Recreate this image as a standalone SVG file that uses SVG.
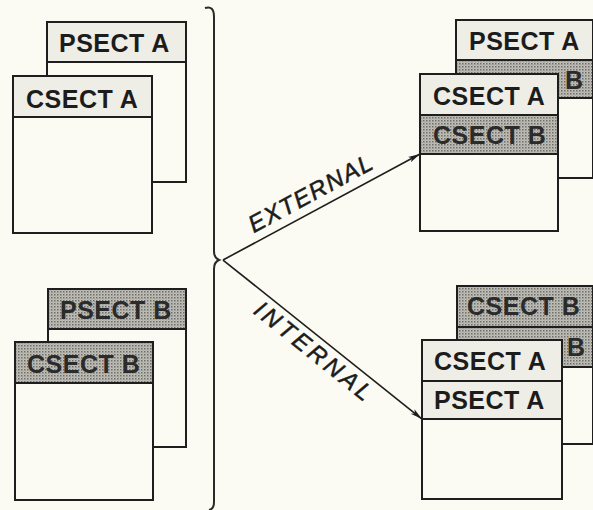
<svg xmlns="http://www.w3.org/2000/svg" width="593" height="510" viewBox="0 0 593 510">
  <defs>
    <!-- halftone screen used for shaded section headers -->
    <pattern id="halftone" width="3" height="3" patternUnits="userSpaceOnUse">
      <rect width="3" height="3" fill="#c2c1b9"/>
      <rect x="0" y="0" width="1.5" height="1.5" fill="#6c6b68"/>
      <rect x="1.5" y="1.5" width="1" height="1" fill="#8e8d89"/>
    </pattern>
    <marker id="arrow" viewBox="0 0 12 8" refX="12" refY="4" markerWidth="12" markerHeight="8" markerUnits="userSpaceOnUse" orient="auto">
      <path d="M0,1 L12,4 L0,7 L3,4 Z" fill="#1e1e1e"/>
    </marker>
    <style>
      .box { fill: #fbfaf3; stroke: #1e1e1e; stroke-width: 2; }
      .light { fill: #efeee6; stroke: #1e1e1e; stroke-width: 2; }
      .shade { fill: url(#halftone); stroke: #1e1e1e; stroke-width: 2; }
      .lbl { font-family: "Liberation Sans", Arial, sans-serif; font-weight: bold; font-size: 25px; letter-spacing: 0.5px; fill: #1c1c1c; }
      .lbl.dim { fill: #2b2b2b; }
      .conn { fill: none; stroke: #1e1e1e; stroke-width: 1.6; }
      .brace { fill: none; stroke: #2a2a2a; stroke-width: 2; }
      .tag { font-family: "Liberation Sans", Arial, sans-serif; font-style: italic; font-size: 24px; fill: #1c1c1c; stroke: #1c1c1c; stroke-width: 0.5; }
    </style>
  </defs>

  <rect width="593" height="510" fill="#fbfaf3"/>

  <!-- left, upper pair: PSECT A behind CSECT A -->
  <g id="psect-a-left">
    <rect class="box" x="47" y="22" width="139" height="160"/>
    <rect class="light" x="47" y="22" width="139" height="40"/>
    <text class="lbl" x="59" y="52">PSECT A</text>
  </g>
  <g id="csect-a-left">
    <rect class="box" x="13" y="76" width="139" height="157"/>
    <rect class="light" x="13" y="76" width="139" height="41"/>
    <text class="lbl" x="26" y="108">CSECT A</text>
  </g>

  <!-- left, lower pair: PSECT B behind CSECT B -->
  <g id="psect-b-left">
    <rect class="box" x="48" y="289" width="138" height="158"/>
    <rect class="shade" x="48" y="289" width="138" height="40"/>
    <text class="lbl dim" x="60" y="319">PSECT B</text>
  </g>
  <g id="csect-b-left">
    <rect class="box" x="15" y="342" width="138" height="158"/>
    <rect class="shade" x="15" y="342" width="138" height="41"/>
    <text class="lbl dim" x="27" y="373">CSECT B</text>
  </g>

  <!-- right, upper: external linkage result -->
  <g id="psect-ext">
    <rect class="box" x="456" y="20" width="137" height="158"/>
    <rect class="light" x="456" y="20" width="137" height="40"/>
    <rect class="shade" x="456" y="60" width="137" height="38"/>
    <text class="lbl" x="469" y="50">PSECT A</text>
    <text class="lbl dim" x="565" y="89">B</text>
  </g>
  <g id="csect-ext">
    <rect class="box" x="420" y="74" width="138" height="157"/>
    <rect class="light" x="420" y="74" width="138" height="41"/>
    <rect class="shade" x="420" y="115" width="138" height="39"/>
    <text class="lbl" x="433" y="105">CSECT A</text>
    <text class="lbl dim" x="433" y="144">CSECT B</text>
  </g>

  <!-- right, lower: internal linkage result -->
  <g id="csect-b-int">
    <rect class="box" x="457" y="286" width="136" height="158"/>
    <rect class="shade" x="457" y="286" width="136" height="41"/>
    <rect class="shade" x="457" y="327" width="136" height="40"/>
    <text class="lbl dim" x="467" y="315">CSECT B</text>
    <text class="lbl dim" x="567" y="356">B</text>
  </g>
  <g id="csect-a-int">
    <rect class="box" x="422" y="340" width="140" height="159"/>
    <rect class="light" x="422" y="340" width="140" height="41"/>
    <rect class="light" x="422" y="381" width="140" height="38"/>
    <text class="lbl" x="434" y="370">CSECT A</text>
    <text class="lbl" x="434" y="409">PSECT A</text>
  </g>

  <!-- brace gathering the inputs, and the two linkage arrows -->
  <g id="connectors">
    <path class="brace" d="M205,8 Q214,5 214,17 L214,251 Q214,258 219,260 Q214,262 214,269 L214,502 Q214,509 209,510"/>
    <line class="conn" x1="223" y1="260" x2="420" y2="154" marker-end="url(#arrow)"/>
    <line class="conn" x1="223" y1="260" x2="422" y2="419" marker-end="url(#arrow)"/>
    <text class="tag" transform="translate(223,260) rotate(-28.3)" x="109" y="-9" text-anchor="middle" letter-spacing="1.5">EXTERNAL</text>
    <text class="tag" transform="translate(223,260) rotate(38.6)" x="129" y="23" text-anchor="middle" letter-spacing="3.5">INTERNAL</text>
  </g>
</svg>
